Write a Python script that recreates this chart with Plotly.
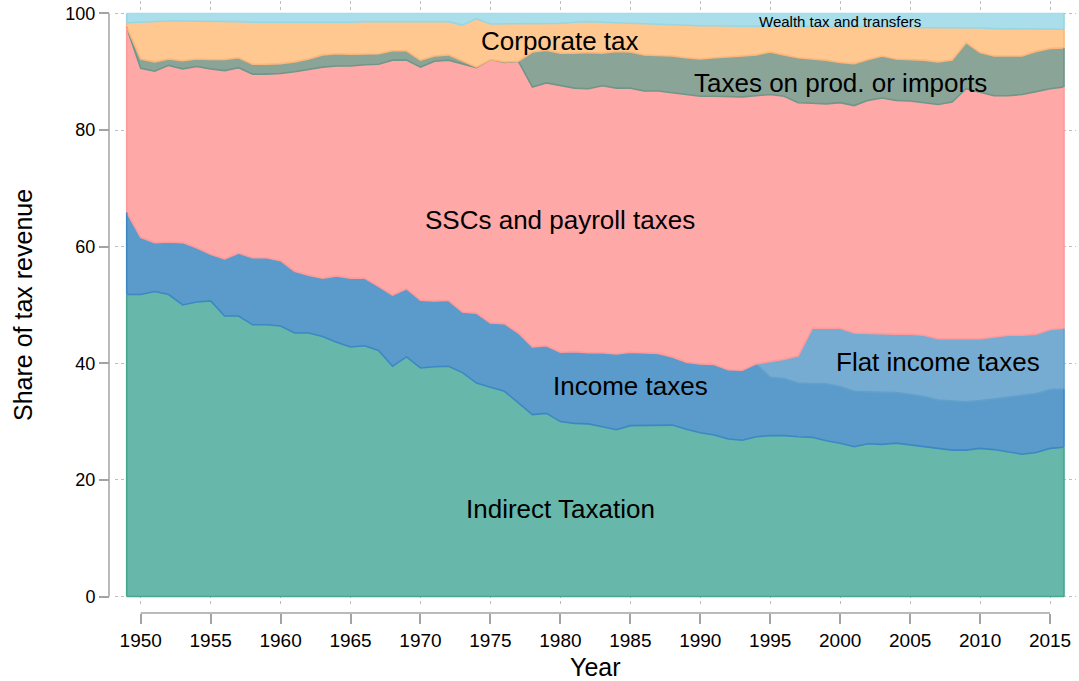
import plotly.graph_objects as go

years = list(range(1949, 2017))

indirect = [51.8, 51.8, 52.3, 51.8, 50.0, 50.5, 50.7, 48.1, 48.1, 46.6,
            46.6, 46.4, 45.2, 45.2, 44.6, 43.6, 42.8, 43.0, 42.2, 39.5,
            41.1, 39.2, 39.4, 39.5, 38.4, 36.6, 35.9, 35.2, 33.2, 31.2,
            31.4, 30.0, 29.7, 29.6, 29.1, 28.6, 29.3, 29.3, 29.4, 29.4,
            28.7, 28.1, 27.7, 27.0, 26.8, 27.4, 27.6, 27.6, 27.4, 27.3,
            26.7, 26.3, 25.7, 26.2, 26.1, 26.3, 26.0, 25.7, 25.4, 25.1,
            25.1, 25.4, 25.2, 24.8, 24.4, 24.7, 25.4, 25.6]
income = [14.1, 9.8, 8.4, 9.0, 10.7, 9.3, 8.0, 9.8, 10.8, 11.5,
          11.5, 11.2, 10.6, 9.9, 10.0, 11.4, 11.8, 11.6, 11.0, 12.2,
          11.7, 11.6, 11.3, 11.3, 10.4, 12.0, 11.0, 11.6, 12.0, 11.6,
          11.6, 11.9, 12.3, 12.2, 12.7, 13.0, 12.6, 12.5, 12.3, 11.7,
          11.5, 11.8, 12.1, 11.9, 12.0, 12.5, 10.0, 9.8, 9.2, 9.2,
          9.8, 9.7, 9.5, 8.9, 9.0, 8.7, 8.7, 8.6, 8.3, 8.5,
          8.3, 8.2, 8.7, 9.5, 10.2, 10.1, 10.1, 10.0]
flat_income = [0.0] * 46 + [2.7, 3.3, 4.7, 9.5,
               9.5, 10.0, 10.0, 10.0, 10.0, 10.0, 10.3, 10.5, 10.5, 10.6,
               10.8, 10.6, 10.6, 10.5, 10.2, 10.2, 10.3, 10.4]
sscs = [31.7, 29.0, 29.4, 30.3, 29.8, 31.1, 31.8, 32.3, 31.8, 31.5,
        31.5, 32.1, 34.2, 35.3, 36.2, 36.0, 36.4, 36.6, 38.1, 40.3,
        39.2, 40.0, 41.1, 41.2, 42.5, 42.1, 45.2, 44.8, 46.6, 44.6,
        45.1, 45.7, 45.2, 45.3, 45.8, 45.6, 45.3, 44.9, 45.0, 45.3,
        45.9, 45.9, 46.0, 46.9, 46.9, 46.0, 45.8, 45.1, 43.4, 38.6,
        38.5, 38.7, 39.0, 40.0, 40.4, 40.1, 40.0, 39.9, 40.2, 40.6,
        42.9, 42.3, 41.4, 41.1, 41.3, 41.6, 41.3, 41.4]
prod_imports = [0.1, 1.6, 1.6, 1.1, 1.4, 1.3, 1.6, 1.9, 1.7, 1.7,
                1.7, 1.7, 1.7, 1.8, 2.1, 2.1, 2.0, 1.9, 1.8, 1.6,
                1.6, 1.2, 0.9, 0.9, 0.5, 0.1, 0.0, 0.1, 0.0, 6.0,
                5.6, 5.6, 6.0, 6.2, 5.6, 6.3, 6.2, 6.2, 6.1, 6.3,
                6.3, 6.4, 6.6, 6.7, 7.0, 7.0, 7.3, 7.1, 7.7, 7.6,
                7.5, 6.9, 7.2, 7.0, 7.2, 7.1, 7.1, 7.3, 7.3, 7.2,
                7.9, 6.8, 6.8, 6.8, 6.6, 6.9, 6.9, 6.7]
corporate = [0.7, 6.3, 7.0, 6.5, 6.8, 6.5, 6.5, 6.5, 6.2, 7.2,
             7.2, 7.1, 6.7, 6.2, 5.5, 5.3, 5.5, 5.5, 5.5, 5.0,
             5.0, 6.6, 5.9, 5.7, 6.2, 8.3, 6.1, 6.5, 6.5, 4.9,
             4.6, 5.1, 5.3, 5.3, 5.3, 4.9, 4.9, 5.3, 5.3, 5.3,
             5.6, 5.7, 5.5, 5.3, 5.1, 4.9, 4.4, 4.9, 5.4, 5.6,
             5.8, 6.1, 6.3, 5.6, 5.0, 5.5, 5.5, 5.6, 5.9, 5.6,
             2.5, 4.2, 4.7, 4.7, 4.7, 3.8, 3.3, 3.2]
wealth = [1.6, 1.5, 1.3, 1.3, 1.3, 1.3, 1.4, 1.4, 1.4, 1.5,
          1.5, 1.5, 1.6, 1.6, 1.6, 1.6, 1.5, 1.4, 1.4, 1.4,
          1.4, 1.4, 1.4, 1.4, 2.0, 0.9, 1.8, 1.8, 1.7, 1.7,
          1.7, 1.7, 1.5, 1.4, 1.5, 1.6, 1.7, 1.8, 1.9, 2.0,
          2.0, 2.1, 2.1, 2.2, 2.2, 2.2, 2.2, 2.2, 2.2, 2.2,
          2.2, 2.3, 2.3, 2.3, 2.3, 2.3, 2.4, 2.4, 2.4, 2.4,
          2.5, 2.5, 2.6, 2.6, 2.6, 2.7, 2.7, 2.7]

series_names = ["Indirect Taxation", "Income taxes", "Flat income taxes",
                "SSCs and payroll taxes", "Taxes on prod. or imports",
                "Corporate tax", "Wealth tax and transfers"]
series_values = [indirect, income, flat_income, sscs, prod_imports, corporate, wealth]
fill_colors = ["#67b8aa", "#5a9bcb", "#76acd2", "#ffa8a8", "#8ba498", "#fec890", "#aadeea"]
# outline colour of each band (Stata draws each band with its own darker outline)
own_edge = ["#45a78f", "#3b88c4", "#62a0cc", "#ff9a9a", "#6f9688", "#fdb679", "#97d6e3"]
# the visible line on top of a band is the outline of the band above it
top_edge = own_edge[1:] + ["#a6dbe7"]

# label placement (x year, y share, font size)
label_pos = {
    "Indirect Taxation": (1980, 15.0, 26),
    "Income taxes": (1985, 36.1, 26),
    "Flat income taxes": (2007, 40.2, 26),
    "SSCs and payroll taxes": (1980, 64.6, 26),
    "Taxes on prod. or imports": (2000, 88.1, 26),
    "Corporate tax": (1980, 95.3, 26),
    "Wealth tax and transfers": (2000, 98.6, 15),
}

x_ticks = list(range(1950, 2016, 5))
y_ticks = list(range(0, 101, 20))

FONT = "Liberation Sans, Arial, sans-serif"
AXIS_GRAY = "#a3a3a3"

W, H = 1079, 681
ML, MR, MT, MB = 109, 3, 1, 68
PW, PH = W - ML - MR, H - MT - MB

fig = go.Figure()
for name, vals, fc, lc in zip(series_names, series_values, fill_colors, top_edge):
    fig.add_trace(go.Scatter(
        x=years, y=vals, name=name, mode="lines", stackgroup="one",
        fillcolor=fc, line=dict(color=lc, width=1.6), hoverinfo="x+y+name"))

# band outlines at the first and last year and along the zero baseline
for idx in (0, len(years) - 1):
    base = 0.0
    for k, vals in enumerate(series_values):
        top = base + vals[idx]
        if vals[idx] > 0:
            fig.add_shape(type="line", xref="x", yref="y",
                          x0=years[idx], x1=years[idx], y0=base, y1=top,
                          line=dict(color=own_edge[k], width=1.6), layer="above")
        base = top
fig.add_shape(type="line", xref="x", yref="y", x0=years[0], x1=years[-1], y0=0, y1=0,
              line=dict(color=own_edge[0], width=1.6), layer="above")

for name, (lx, ly, fs) in label_pos.items():
    fig.add_annotation(x=lx, y=ly, text=name, showarrow=False,
                       font=dict(family=FONT, size=fs, color="black"),
                       xanchor="center", yanchor="middle")

# axis titles
fig.add_annotation(xref="paper", yref="paper", x=(23 - ML) / PW, y=(H - MB - 305) / PH,
                   text="Share of tax revenue", textangle=-90, showarrow=False,
                   font=dict(family=FONT, size=25, color="black"),
                   xanchor="center", yanchor="middle")
fig.add_annotation(xref="paper", yref="paper", x=(595 - ML) / PW, y=(H - MB - 667) / PH,
                   text="Year", showarrow=False,
                   font=dict(family=FONT, size=25, color="black"),
                   xanchor="center", yanchor="middle")

# Stata-style axis lines spanning only the tick range
fig.add_shape(type="line", xref="paper", yref="y", x0=0, x1=0,
              y0=min(y_ticks), y1=max(y_ticks), line=dict(color=AXIS_GRAY, width=1.5))
fig.add_shape(type="line", xref="x", yref="paper", x0=min(x_ticks), x1=max(x_ticks),
              y0=0, y1=0, line=dict(color=AXIS_GRAY, width=1.5))

fig.update_layout(
    width=W, height=H,
    margin=dict(l=ML, r=MR, t=MT, b=MB, autoexpand=False),
    paper_bgcolor="white", plot_bgcolor="white",
    showlegend=False,
    font=dict(family=FONT, color="black"),
    xaxis=dict(
        domain=[6 / PW, 1], range=[1948.163, 2016.856],
        tickvals=x_ticks, ticks="outside", ticklen=10, tickwidth=1.5, tickcolor=AXIS_GRAY,
        showline=False, zeroline=False, automargin=False,
        showgrid=True, gridcolor="#bdbdbd", griddash="dot", gridwidth=1,
        anchor="free", position=0,
        tickfont=dict(family="Liberation Sans Narrow, " + FONT, size=19, color="black"),
    ),
    yaxis=dict(
        domain=[7 / PH, 1], range=[-1.63, 102.14],
        tickvals=y_ticks, ticks="outside", ticklen=10, tickwidth=1.5, tickcolor=AXIS_GRAY,
        showline=False, zeroline=False, automargin=False,
        showgrid=True, gridcolor="#bdbdbd", griddash="dot", gridwidth=1,
        anchor="free", position=0,
        tickfont=dict(family=FONT, size=18, color="black"),
    ),
)

fig.write_html("out.html", config={"displayModeBar": False},
               post_script="document.body.style.margin='0';document.body.style.padding='0';")
